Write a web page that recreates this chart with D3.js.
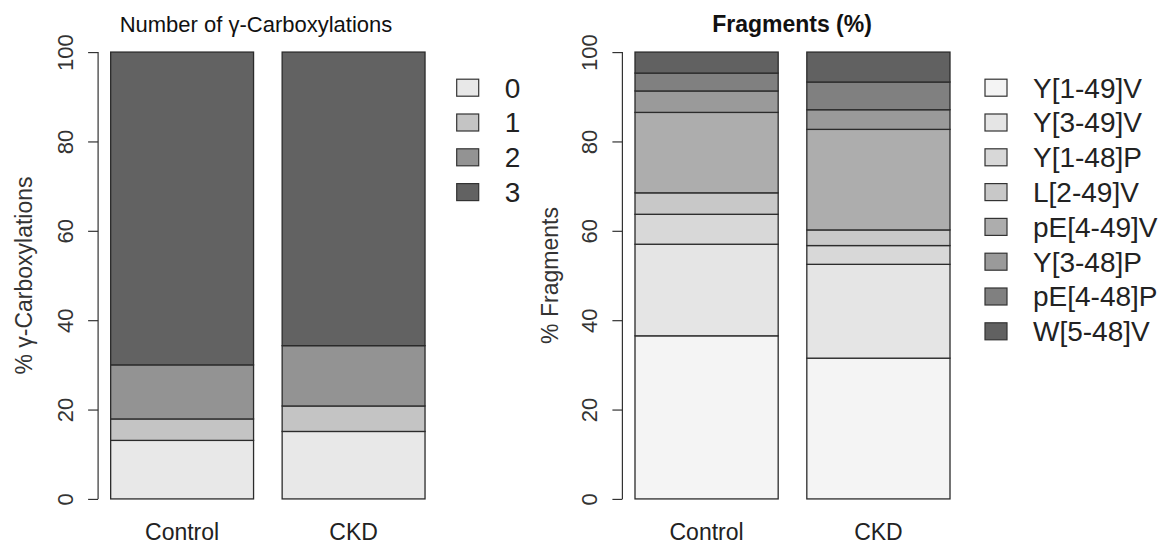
<!DOCTYPE html>
<html>
<head>
<meta charset="utf-8">
<script src="https://cdn.jsdelivr.net/npm/d3@7"></script>
<style>
  html, body { margin: 0; padding: 0; background: #ffffff; }
  svg { display: block; font-family: "Liberation Sans", Arial, Helvetica, sans-serif; }
</style>
</head>
<body>
<svg id="chart" width="1175" height="546"></svg>
<script>
// ---- Data ----
const groups = ["Control", "CKD"];
const yTicks = [0, 20, 40, 60, 80, 100];

const carbLevels = ["0", "1", "2", "3"];
const carbControl = [13.1, 4.8, 12.1, 70.0];
const carbCKD = [15.1, 5.7, 13.5, 65.7];
const carbColors = ["#e8e8e8", "#c4c4c4", "#939393", "#626262"];

const fragLabels = ["Y[1-49]V", "Y[3-49]V", "Y[1-48]P", "L[2-49]V", "pE[4-49]V", "Y[3-48]P", "pE[4-48]P", "W[5-48]V"];
const fragControl = [36.5, 20.5, 6.7, 4.8, 18.0, 4.8, 4.0, 4.7];
const fragCKD = [31.5, 21.0, 4.2, 3.5, 22.5, 4.4, 6.2, 6.7];
const fragColors = ["#f4f4f4", "#e5e5e5", "#d8d8d8", "#c8c8c8", "#adadad", "#9a9a9a", "#808080", "#616161"];

const svg = d3.select("#chart");

function drawPanel(cfg) {
  const g = svg.append("g");
  const x = d3.scaleBand().domain(groups).range([cfg.left, cfg.right])
    .paddingInner(1 / 6).paddingOuter(0.0733).align(0.5);
  const y = d3.scaleLinear().domain([-4, 104]).range([516.8, 34.2]);

  // stacked bars
  const series = [cfg.control, cfg.ckd];
  groups.forEach((grp, gi) => {
    let cum = 0;
    cfg.levels.forEach((lev, li) => {
      const v = series[gi][li];
      g.append("rect")
        .attr("x", x(grp))
        .attr("width", x.bandwidth())
        .attr("y", y(cum + v))
        .attr("height", y(cum) - y(cum + v))
        .attr("fill", cfg.colors[li])
        .attr("stroke", "#2b2b2b")
        .attr("stroke-width", 1.3);
      cum += v;
    });
  });

  // y axis
  const axis = d3.axisLeft(y).tickValues(yTicks).tickSize(10).tickFormat(d3.format("d"));
  const ag = g.append("g").attr("transform", `translate(${cfg.left},0)`).call(axis);
  ag.select(".domain").remove();
  ag.selectAll(".tick line").attr("stroke", "#333").attr("stroke-width", 1.2);
  ag.selectAll(".tick text")
    .attr("x", null).attr("dy", null)
    .attr("transform", "translate(-33,0) rotate(-90)")
    .attr("text-anchor", "middle")
    .attr("dy", "0.35em")
    .attr("fill", "#333")
    .style("font-size", "22px")
    .style("font-family", "Liberation Sans, Arial, sans-serif");
  ag.append("line")
    .attr("x1", 0).attr("x2", 0)
    .attr("y1", y(yTicks[0])).attr("y2", y(yTicks[yTicks.length - 1]))
    .attr("stroke", "#333").attr("stroke-width", 1.2);

  // x labels
  groups.forEach(grp => {
    g.append("text")
      .attr("x", x(grp) + x.bandwidth() / 2)
      .attr("y", 540)
      .attr("text-anchor", "middle")
      .attr("fill", "#222")
      .style("font-size", "23px")
      .text(grp);
  });

  // y title
  g.append("text")
    .attr("transform", `translate(${cfg.left - cfg.ytOffset},${(y(0) + y(100)) / 2}) rotate(-90)`)
    .attr("text-anchor", "middle")
    .attr("dy", "0.35em")
    .attr("fill", "#333")
    .style("font-size", "23px")
    .text(cfg.ytitle);

  // title
  g.append("text")
    .attr("x", cfg.titleX)
    .attr("y", 32)
    .attr("text-anchor", "middle")
    .attr("fill", "#111")
    .style("font-size", cfg.titleSize)
    .style("font-weight", cfg.titleWeight)
    .text(cfg.title);

  // legend
  const lg = g.append("g");
  cfg.levels.forEach((lev, li) => {
    const cy = 87.7 + li * 34.8;
    lg.append("rect")
      .attr("x", cfg.legX).attr("y", cy - 8.5)
      .attr("width", 22).attr("height", 17)
      .attr("fill", cfg.colors[li])
      .attr("stroke", "#333").attr("stroke-width", 1.2);
    lg.append("text")
      .attr("x", cfg.legX + 48).attr("y", cy)
      .attr("dy", "0.35em")
      .attr("fill", "#222")
      .style("font-size", "28px")
      .text(lev);
  });
}

drawPanel({
  left: 98.1, right: 437.6,
  levels: carbLevels, control: carbControl, ckd: carbCKD, colors: carbColors,
  title: "Number of γ-Carboxylations", titleSize: "22px", titleWeight: "normal", titleX: 256,
  ytitle: "% γ-Carboxylations", ytOffset: 74,
  legX: 456.7
});

drawPanel({
  left: 622.4, right: 962.6,
  levels: fragLabels, control: fragControl, ckd: fragCKD, colors: fragColors,
  title: "Fragments (%)", titleSize: "23px", titleWeight: "bold", titleX: 792,
  ytitle: "% Fragments", ytOffset: 72,
  legX: 985
});
</script>
</body>
</html>
